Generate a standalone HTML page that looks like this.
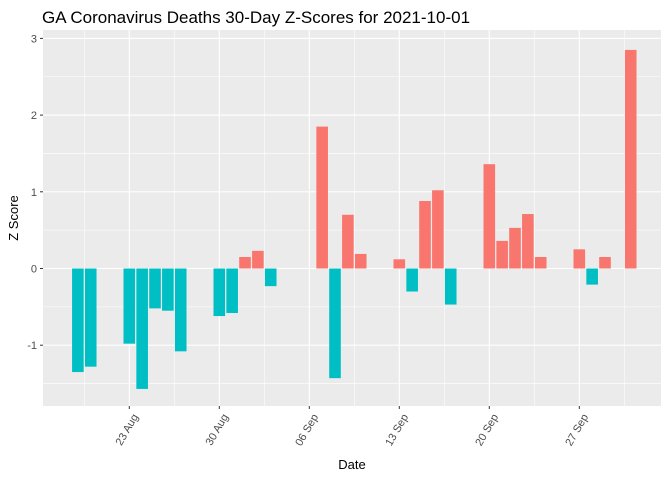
<!DOCTYPE html>
<html><head><meta charset="utf-8"><style>
body{margin:0;background:#fff;}
text{font-family:"Liberation Sans",sans-serif;}
</style></head><body>
<svg id="chart" width="672" height="480" xmlns="http://www.w3.org/2000/svg">
<text x="42" y="23" font-size="17" fill="#000">GA Coronavirus Deaths 30-Day Z-Scores for 2021-10-01</text>
<rect x="43" y="30" width="618" height="376" fill="#EBEBEB"/>
<g id="grid"></g><g id="bars"></g><g id="axes"></g>
<text x="352" y="469" font-size="13" text-anchor="middle">Date</text>
<text transform="translate(18,218) rotate(-90)" font-size="13" text-anchor="middle">Z Score</text>
</svg>
<script>
const dates=["2021-08-19","2021-08-20","2021-08-23","2021-08-24","2021-08-25","2021-08-26","2021-08-27","2021-08-30","2021-08-31","2021-09-01","2021-09-02","2021-09-03","2021-09-07","2021-09-08","2021-09-09","2021-09-10","2021-09-13","2021-09-14","2021-09-15","2021-09-16","2021-09-17","2021-09-20","2021-09-21","2021-09-22","2021-09-23","2021-09-24","2021-09-27","2021-09-28","2021-09-29","2021-10-01"];
const zscores=[-1.35,-1.28,-0.98,-1.57,-0.52,-0.55,-1.08,-0.62,-0.58,0.15,0.23,-0.23,1.85,-1.43,0.70,0.19,0.12,-0.30,0.88,1.02,-0.47,1.36,0.36,0.53,0.71,0.15,0.25,-0.21,0.15,2.85];
const yTicks=[-1,0,1,2,3];
const xTickDates=["2021-08-23","2021-08-30","2021-09-06","2021-09-13","2021-09-20","2021-09-27"];
const xTickLabels=["23 Aug","30 Aug","06 Sep","13 Sep","20 Sep","27 Sep"];
const NS="http://www.w3.org/2000/svg";
const day0=Date.UTC(2021,7,23);
function dnum(s){const p=s.split("-");return (Date.UTC(+p[0],p[1]-1,+p[2])-day0)/86400000;}
function x(d){return 129.3+dnum(d)*12.857;}
function xn(n){return 129.3+n*12.857;}
function y(v){return 268.5-v*76.7;}
function el(t,a,parent){const e=document.createElementNS(NS,t);for(const k in a)e.setAttribute(k,a[k]);document.getElementById(parent).appendChild(e);return e;}
// grid
for(let v=-1.5;v<=3;v+=0.5){const major=Number.isInteger(v);const l=el("line",{x1:43,x2:661,y1:y(v),y2:y(v),stroke:"#fff","stroke-width":major?1.1:0.55},"grid");

}
for(let n=-3.5;n<=45;n+=3.5){const major=(n%7===0);const xx=xn(n);if(xx<43||xx>661)continue;const l=el("line",{x1:xx,x2:xx,y1:30,y2:406,stroke:"#fff","stroke-width":major?1.1:0.55},"grid");

}
// bars
dates.forEach((d,i)=>{const v=zscores[i];const cx=x(d);const r=el("rect",{x:cx-5.8,width:11.6,y:Math.min(y(v),y(0)),height:Math.abs(y(v)-y(0)),fill:v>=0?"#F8766D":"#00BFC4"},"bars");

});
// y ticks
yTicks.forEach(v=>{const t=el("line",{x1:40,x2:43,y1:y(v),y2:y(v),stroke:"#333","stroke-width":1},"axes");


const tx=el("text",{x:37,y:y(v)+4,"font-size":11,fill:"#4D4D4D","text-anchor":"end"},"axes");tx.textContent=v;

});
xTickDates.forEach((d,i)=>{const xx=x(d);const t=el("line",{x1:xx,x2:xx,y1:406,y2:409,stroke:"#333","stroke-width":1},"axes");


const tx=el("text",{transform:`translate(${xx+3},${413}) rotate(-60)`,"font-size":11,fill:"#4D4D4D","text-anchor":"end","dominant-baseline":"hanging"},"axes");tx.textContent=xTickLabels[i];

});
</script>
</body></html>
